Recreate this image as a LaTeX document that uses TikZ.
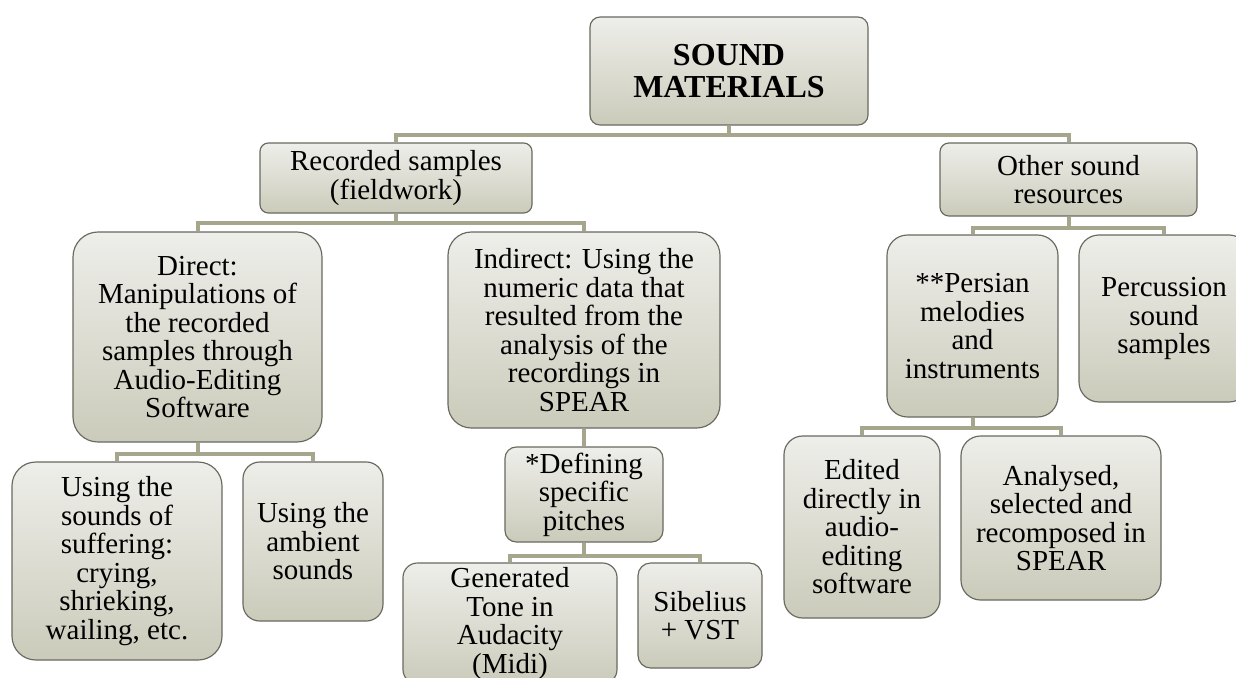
\documentclass[tikz,border=0pt]{standalone}
\usepackage{fontspec}
\setmainfont{Liberation Serif}
\usetikzlibrary{positioning}
\definecolor{boxtop}{RGB}{238,238,234}
\definecolor{boxbot}{RGB}{203,203,187}
\definecolor{boxline}{RGB}{105,105,95}
\definecolor{linkcol}{RGB}{166,166,140}
\tikzset{
  box/.style={draw=boxline, line width=0.7pt, top color=boxtop, bottom color=boxbot,
    align=center, inner sep=0pt, font=\fontsize{17.4}{17.1}\selectfont},
  link/.style={draw=linkcol, line width=2.4pt},
}

\begin{document}
\begin{tikzpicture}[x=0.6pt,y=-0.6pt]
\useasboundingbox (0,0) rectangle (1236,677);
% Nodes
\node[box, rounded corners=6pt, minimum width=166.8pt, minimum height=64.8pt,
  font=\bfseries\fontsize{19.2}{19.4}\selectfont] (root) at (729,71) {SOUND\\MATERIALS};
\node[box, rounded corners=5pt, minimum width=163.2pt, minimum height=42pt] (rec) at (396,178) {Recorded samples\\(fieldwork)};
\node[box, rounded corners=5.3pt, minimum width=154.2pt, minimum height=43.8pt] (oth) at (1068.5,179.5) {Other sound\\resources};
\node[box, rounded corners=15pt, minimum width=149.4pt, minimum height=126pt] (dir) at (197.5,337) {Direct:\\Manipulations of\\the recorded\\samples through\\Audio-Editing\\Software};
\node[box, rounded corners=14pt, minimum width=163.2pt, minimum height=117.6pt] (ind) at (584,330) {Indirect: Using the\\numeric data that\\resulted from the\\analysis of the\\recordings in\\SPEAR};
\node[box, rounded corners=6.8pt, minimum width=94.8pt, minimum height=57pt] (def) at (584,494.5) {*Defining\\specific\\pitches};
\node[box, rounded corners=8.7pt, minimum width=128.4pt, minimum height=72.6pt] (gen) at (510,623.5) {Generated\\Tone in\\Audacity\\(Midi)};
\node[box, rounded corners=7.6pt, minimum width=74.4pt, minimum height=63pt] (sib) at (700,615.5) {Sibelius\\+ VST};
\node[box, rounded corners=14.3pt, minimum width=126pt, minimum height=118.8pt] (suf) at (117,561) {Using the\\sounds of\\suffering:\\crying,\\shrieking,\\wailing, etc.};
\node[box, rounded corners=10pt, minimum width=84pt, minimum height=95.4pt] (amb) at (313,541.5) {Using the\\ambient\\sounds};
\node[box, rounded corners=12.3pt, minimum width=102.6pt, minimum height=109.2pt] (per) at (972.5,326) {**Persian\\melodies\\and\\instruments};
\node[box, rounded corners=12pt, minimum width=102pt, minimum height=100.2pt] (pc) at (1164,318.5) {Percussion\\sound\\samples};
\node[box, rounded corners=11.2pt, minimum width=93.6pt, minimum height=109.2pt] (edi) at (862,527) {Edited\\directly in\\audio-\\editing\\software};
\node[box, rounded corners=11.8pt, minimum width=120pt, minimum height=98.4pt] (ana) at (1061,518) {Analysed,\\selected and\\recomposed in\\SPEAR};
% Lines
\draw[link] (root.south) -- ++(0,9) -| (rec.north);
\draw[link] (root.south) -- ++(0,9) -| (oth.north);
\draw[link] (rec.south) -- ++(0,9) -| (dir.north);
\draw[link] (rec.south) -- ++(0,9) -| (ind.north);
\draw[link] (dir.south) -- ++(0,11) -| (suf.north);
\draw[link] (dir.south) -- ++(0,11) -| (amb.north);
\draw[link] (ind.south) -- (def.north);
\draw[link] (def.south) -- ++(0,13) -| (gen.north);
\draw[link] (def.south) -- ++(0,13) -| (sib.north);
\draw[link] (oth.south) -- ++(0,11) -| (per.north);
\draw[link] (oth.south) -- ++(0,11) -| (pc.north);
\draw[link] (per.south) -- ++(0,10) -| (edi.north);
\draw[link] (per.south) -- ++(0,10) -| (ana.north);
\end{tikzpicture}
\end{document}
